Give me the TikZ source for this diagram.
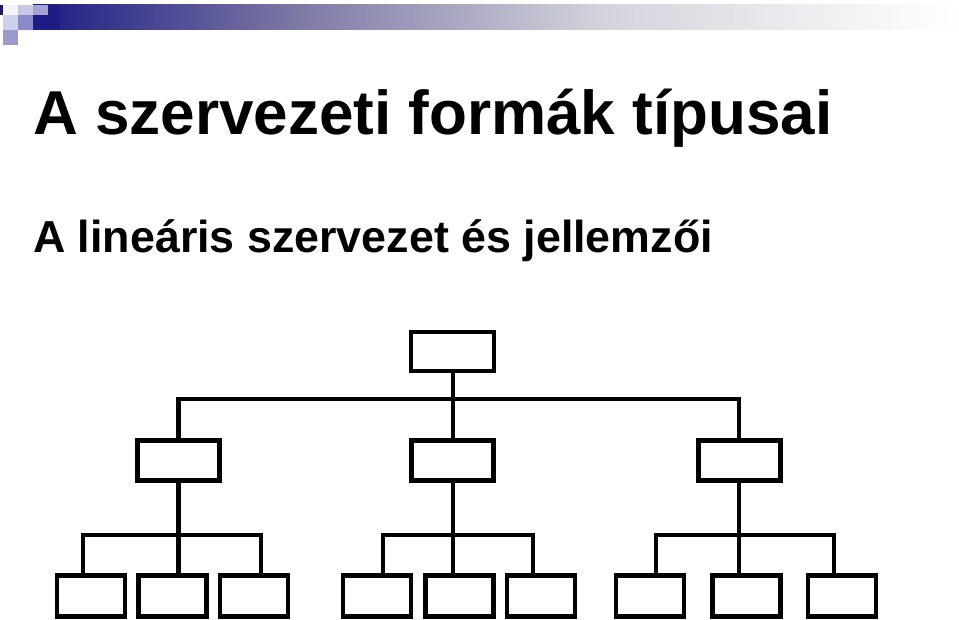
\documentclass[tikz,border=0pt]{standalone}
\usepackage{fontspec}
\setmainfont{Liberation Sans}
\usetikzlibrary{calc}
\definecolor{navy}{HTML}{1C1C84}
\definecolor{navydk}{HTML}{1A1A6E}
\definecolor{gmid}{HTML}{7E7AA6}
\definecolor{glight}{HTML}{D2D3DC}
\definecolor{gpale}{HTML}{F4F4F6}
\definecolor{sqA}{HTML}{F4F4FA}
\definecolor{sqB}{HTML}{C8C8E4}
\definecolor{sqC}{HTML}{A4A4D4}
\definecolor{sqD}{HTML}{D0D0EC}
\definecolor{sqE}{HTML}{8A8AC8}
\definecolor{sqF}{HTML}{9A9ACC}
\begin{document}
\begin{tikzpicture}[x=1pt,y=-1pt,
  box/.style={draw=black,line width=4.4pt,inner sep=0pt,fill=white},
  topbox/.style={box,minimum width=83pt,minimum height=39pt},
  midbox/.style={box,minimum width=82pt,minimum height=40pt},
  botbox/.style={box,minimum width=68pt,minimum height=41pt},
  conn/.style={draw=black,line width=4.2pt},
  titletext/.style={anchor=base west,inner sep=0pt,font=\fontsize{62}{62}\selectfont\bfseries},
  subtext/.style={anchor=base west,inner sep=0pt,font=\fontsize{44.8}{44.8}\selectfont\bfseries}]
\useasboundingbox (0,0) rectangle (959,620);
\fill[white] (0,0) rectangle (959,620);
% gradient bar
\shade[left color=navy,right color=gmid] (33,5) rectangle (301,30);
\shade[left color=gmid,right color=glight] (300,5) rectangle (601,30);
\shade[left color=glight,right color=gpale] (600,5) rectangle (860,30);
\shade[left color=gpale,right color=white] (859,5) rectangle (959,30);
\fill[navy] (33,5) rectangle (60,30);
% squares
\fill[navydk] (0,5) rectangle (3,15);
\fill[sqA] (3,5) rectangle (18,15);
\fill[sqB] (18,5) rectangle (33,15);
\fill[sqC] (33,5) rectangle (48,15);
\fill[sqD] (3,15) rectangle (18,30);
\fill[sqE] (18,15) rectangle (33,30);
\fill[sqF] (3,30) rectangle (18,45);
% texts
\node[titletext] (title) at (33,135) {A szervezeti formák típusai};
\node[subtext] (sub) at (33,253) {A lineáris szervezet és jellemzői};
% coordinates for buses
\coordinate (bus0) at (0,398.7);
\coordinate (bus1) at (0,535);
% boxes
\node[topbox] (T) at (452.6,351.5) {};
\node[midbox] (L) at (178.5,460.5) {};
\node[midbox] (M) at (452.6,460.5) {};
\node[midbox] (R) at (739.3,460.5) {};
\node[botbox] (b1) at (91.2,596) {};
\node[botbox] (b2) at (172.5,596) {};
\node[botbox] (b3) at (254.2,596) {};
\node[botbox] (b4) at (377.2,596) {};
\node[botbox] (b5) at (459.4,596) {};
\node[botbox] (b6) at (541.2,596) {};
\node[botbox] (b7) at (650,596) {};
\node[botbox] (b8) at (746.5,596) {};
\node[botbox] (b9) at (841.9,596) {};
% connectors top level
\draw[conn] (T.south) -- (M.north);
\draw[conn] (L.north) |- (T.south |- bus0) -| (R.north);
% left subtree
\draw[conn] (L.south) -- (L.south |- b2.north);
\draw[conn] ([xshift=-8.5pt]b1.north) |- (L.south |- bus1) -| ([xshift=6.8pt]b3.north);
% middle subtree
\draw[conn] (M.south) -- (M.south |- b5.north);
\draw[conn] ([xshift=6.1pt]b4.north) |- (M.south |- bus1) -| ([xshift=-7.9pt]b6.north);
% right subtree
\draw[conn] (R.south) -- (R.south |- b8.north);
\draw[conn] ([xshift=6pt]b7.north) |- (R.south |- bus1) -| ([xshift=-7.9pt]b9.north);
\end{tikzpicture}
\end{document}
